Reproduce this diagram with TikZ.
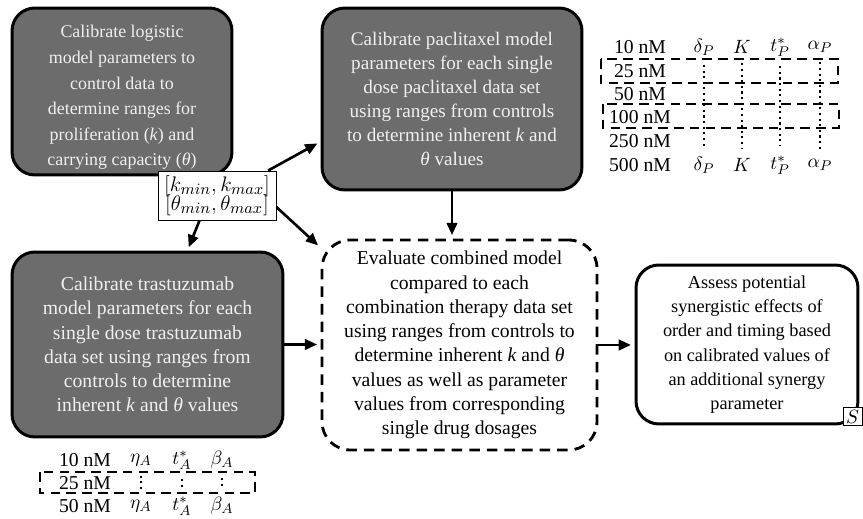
\documentclass[tikz,border=0pt]{standalone}
\usepackage{fontspec}
\setmainfont{Liberation Serif}
\usetikzlibrary{arrows.meta}

\definecolor{boxgray}{RGB}{108,108,108}
\definecolor{boxtext}{RGB}{240,240,240}

\newcommand{\kk}{\textit{k}}
\newcommand{\thet}{\textit{θ}}

\begin{document}
\begin{tikzpicture}[
x=0.02cm,y=-0.02cm,
every node/.style={font=\fontsize{11.2}{13.8}\selectfont},
etape/.style={draw,line width=1.7pt,rounded corners=13pt,fill=boxgray,
text=boxtext,align=center,inner sep=0pt},
evalbox/.style={draw,line width=1.6pt,rounded corners=16pt,
dash pattern=on 6pt off 4pt,align=center,inner sep=0pt},
finbox/.style={draw,line width=1.7pt,rounded corners=13pt,align=center,inner sep=0pt},
plage/.style={draw,line width=0.5pt,fill=white,align=center,inner sep=1.5pt},
fleche/.style={line width=1.5pt,-{Triangle[length=7pt,width=6pt]},shorten >=2pt},
tiret/.style={line width=1.4pt,dash pattern=on 5.5pt off 3.5pt},
pointille/.style={line width=1.2pt,dotted,shorten <=2pt,shorten >=2pt}
]

\useasboundingbox (0,0) rectangle (863,519);

% Logistique
\node[etape,minimum width=4.4cm,minimum height=3.34cm,
font=\fontsize{10.2}{14.6}\selectfont]
(logist) at (122,91.5)
{\rule{0pt}{14pt}Calibrate logistic\\model parameters to\\control data to\\determine ranges for\\
proliferation (\kk) and\\carrying capacity (\thet)};

% Paclitaxel
\node[etape,minimum width=5.2cm,minimum height=3.64cm,
font=\fontsize{10.9}{13.6}\selectfont]
(pacli) at (452,99)
{Calibrate paclitaxel model\\parameters for each single\\dose paclitaxel data set\\
using ranges from controls\\to determine inherent \kk{} and\\\thet{} values};

% Trastuzumab
\node[etape,minimum width=5.42cm,minimum height=3.7cm]
(trastu) at (147.5,344.5)
{Calibrate trastuzumab\\model parameters for each\\single dose trastuzumab\\
data set using ranges from\\controls to determine\\inherent \kk{} and \thet{} values};

% Combinaison
\node[evalbox,minimum width=5.5cm,minimum height=4.2cm]
(combi) at (459.5,345)
{Evaluate combined model\\compared to each\\combination therapy data set\\
using ranges from controls to\\determine inherent \kk{} and \thet\\
values as well as parameter\\values from corresponding\\single drug dosages};

% Synergie
\node[finbox,minimum width=4.44cm,minimum height=3.18cm,
font=\fontsize{10.4}{13.8}\selectfont]
(synerg) at (747,344.5)
{Assess potential\\synergistic effects of\\order and timing based\\
on calibrated values of\\an additional synergy\\parameter};

\node[plage,minimum width=0.38cm,minimum height=0.34cm]
(sparam) at (852.5,416.5)
{$S$};

% Plages
\node[plage,minimum width=2.36cm,minimum height=0.98cm,
font=\fontsize{12.4}{14}\selectfont]
(plages) at (217,195.5)
{$[k_{min},k_{max}]$\\[-3pt]$[\theta_{min},\theta_{max}]$};

% Fleches
\draw[fleche]
(plages.26)
--
(pacli.198);

\draw[fleche]
(plages.235)
--
(trastu.67);

\draw[fleche]
(plages.-11)
--
(combi.145);

\draw[fleche]
(pacli.south)
--
(pacli.south |- combi.north);

\draw[fleche]
(trastu.east)
--
(trastu.east -| combi.west);

\draw[fleche]
(combi.east)
--
(combi.east -| synerg.west);

% Doses paclitaxel
\foreach \dose/\y [count=\i] in {10/47,25/71,50/94,100/117,250/141,500/165}
  \node (pd\i) at (640,\y) {\dose~nM};

\node (delta1) at (704,47) {$\delta_P$};
\node (kk1) at (742,47) {$K$};
\node (tp1) at (780,47) {$t_P^*$};
\node (alpha1) at (820,47) {$\alpha_P$};

\node (delta6) at (704,165) {$\delta_P$};
\node (kk6) at (742,165) {$K$};
\node (tp6) at (780,165) {$t_P^*$};
\node (alpha6) at (820,165) {$\alpha_P$};

\draw[pointille] (delta1) -- (delta6);
\draw[pointille] (kk1) -- (kk6);
\draw[pointille] (tp1) -- (tp6);
\draw[pointille] (alpha1) -- (alpha6);

\draw[tiret]
(601,59)
rectangle
(838,83);

\draw[tiret]
(603,104)
rectangle
(839,128);

% Doses trastuzumab
\foreach \dose/\y [count=\i] in {10/460,25/483,50/506}
  \node (td\i) at (85,\y) {\dose~nM};

\node (eta1) at (141,460) {$\eta_A$};
\node (ta1) at (182,460) {$t_A^*$};
\node (beta1) at (222,460) {$\beta_A$};

\node (eta3) at (141,506) {$\eta_A$};
\node (ta3) at (182,506) {$t_A^*$};
\node (beta3) at (222,506) {$\beta_A$};

\draw[pointille] (eta1) -- (eta3);
\draw[pointille] (ta1) -- (ta3);
\draw[pointille] (beta1) -- (beta3);

\draw[tiret]
(40,472)
rectangle
(255,493);

\end{tikzpicture}
\end{document}
